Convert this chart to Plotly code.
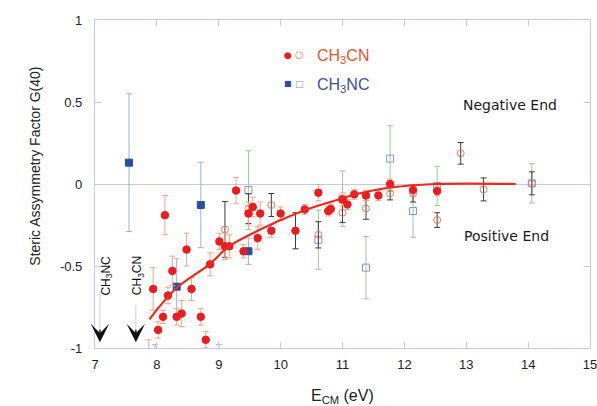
import plotly.graph_objects as go

# ---------------- data ----------------
# CH3CN, filled circles, salmon error bars
cn_fill_x = [7.94, 8.02, 8.10, 8.13, 8.18, 8.25, 8.32, 8.40, 8.48, 8.56, 8.71, 8.79, 8.86,
             9.01, 9.10, 9.17, 9.28, 9.40, 9.48, 9.55, 9.63, 9.67, 9.85, 10.00, 10.39,
             10.61, 10.77, 10.81, 11.00, 11.08, 11.19, 11.38, 11.58, 11.77, 12.14, 12.53]
cn_fill_y = [-0.64, -0.89, -0.81, -0.19, -0.68, -0.53, -0.81, -0.79, -0.40, -0.64, -0.81, -0.95, -0.49,
             -0.35, -0.38, -0.38, -0.04, -0.41, -0.18, -0.14, -0.33, -0.18, -0.285, -0.18, -0.155,
             -0.053, -0.165, -0.152, -0.094, -0.125, -0.063, -0.07, -0.07, 0.0, -0.037, -0.043]
cn_fill_e = [0.13, 0.05, 0.04, 0.12, 0.05, 0.09, 0.05, 0.08, 0.10, 0.07, 0.05, 0.05, 0.07,
             0.05, 0.08, 0.07, 0.08, 0.04, 0.07, 0.06, 0.07, 0.07, 0.04, 0.04, 0.03,
             0.05, 0.03, 0.03, 0.04, 0.03, 0.03, 0.03, 0.03, 0.03, 0.03, 0.03]

# CH3CN, filled circle with dark error bar
cn_fill2_x = [10.24]
cn_fill2_y = [-0.285]
cn_fill2_e = [0.11]

# CH3CN, open circles, dark error bars
cn_open_x = [9.10, 9.48, 9.85, 10.61, 11.00, 11.38, 11.77, 12.14, 12.53, 12.91, 13.28, 14.06]
cn_open_y = [-0.277, -0.15, -0.128, -0.31, -0.175, -0.15, -0.057, -0.06, -0.22, 0.187, -0.033, 0.004]
cn_open_e = [0.17, 0.09, 0.07, 0.08, 0.06, 0.065, 0.04, 0.05, 0.045, 0.066, 0.07, 0.07]

# CH3CN, open circle, salmon error bar (mostly below the axis range)
cn_open2_x = [7.87]
cn_open2_y = [-1.15]
cn_open2_e = [0.2]

# CH3NC, open squares, green error bars
nc_open_x = [9.48, 10.61, 11.00, 11.38, 11.77, 12.14, 12.53, 14.06]
nc_open_y = [-0.037, -0.34, -0.09, -0.51, 0.155, -0.165, -0.012, 0.004]
nc_open_e = [0.24, 0.18, 0.17, 0.19, 0.20, 0.16, 0.12, 0.12]

# CH3NC, open squares, lavender error bars (below the axis range)
nc_open2_x = [7.97, 9.00]
nc_open2_y = [-1.08, -1.12]
nc_open2_e = [0.10, 0.14]

# CH3NC, filled squares, lavender error bars
nc_fill_x = [7.55, 8.32, 8.71, 9.48]
nc_fill_y = [0.13, -0.626, -0.128, -0.41]
nc_fill_e = [0.42, 0.17, 0.26, 0.08]

# fitted curve
fit_x = [7.88, 8.30, 8.85, 9.15, 9.50, 9.80, 10.00, 10.40, 11.00, 11.30, 11.60, 11.80, 12.20, 12.50, 13.00, 13.80]
fit_y = [-0.825, -0.64, -0.49, -0.385, -0.31, -0.255, -0.22, -0.158, -0.087, -0.055, -0.032, -0.02, -0.006, 0.0, 0.002, 0.0]

x_ticks = [7, 8, 9, 10, 11, 12, 13, 14, 15]
y_ticks = [-1, -0.5, 0, 0.5, 1]
y_tick_text = ["-1", "-0.5", "0", "0.5", "1"]

# ---------------- styles ----------------
RED = "#ec1c1e"
SALMON = "#f5a486"
OPEN_OR = "#f07a5a"
DARK = "#3c3c3c"
GREEN = "#9cc89c"
BLUE = "#2451a3"
LAV = "#a7addd"
OPEN_BL = "#8a92d2"
AXC = "#c5c8ec"

fig = go.Figure()


def add(x, y, e, symbol, mcolor, ecolor, size=7.5, lw=1):
    fig.add_trace(go.Scatter(
        x=x, y=y, mode="markers",
        marker=dict(symbol=symbol, color=mcolor, size=size,
                    line=dict(color=mcolor, width=lw)),
        error_y=dict(type="data", array=e, visible=True, color=ecolor,
                     thickness=1, width=3),
        showlegend=False, hoverinfo="x+y"))


add(nc_open_x, nc_open_y, nc_open_e, "square-open", OPEN_BL, GREEN, size=7)
add(nc_open2_x, nc_open2_y, nc_open2_e, "square-open", OPEN_BL, LAV, size=7)
add(cn_open_x, cn_open_y, cn_open_e, "circle-open", OPEN_OR, DARK, size=7)
add(cn_open2_x, cn_open2_y, cn_open2_e, "circle-open", OPEN_OR, SALMON, size=7)
add(nc_fill_x, nc_fill_y, nc_fill_e, "square", BLUE, LAV, size=7)
add(cn_fill_x, cn_fill_y, cn_fill_e, "circle", RED, SALMON)
add(cn_fill2_x, cn_fill2_y, cn_fill2_e, "circle", RED, DARK)

fig.add_trace(go.Scatter(x=fit_x, y=fit_y, mode="lines",
                         line=dict(color="#ee2a1e", width=2.2, shape="spline", smoothing=1.0),
                         showlegend=False, hoverinfo="skip"))

FONT = "Liberation Sans, Arial, sans-serif"

ann = []
# legend (drawn as text)
ann.append(dict(x=10.12, y=0.787, xref="x", yref="y", text="●", showarrow=False,
                font=dict(color=RED, size=9, family="DejaVu Sans")))
ann.append(dict(x=10.30, y=0.787, xref="x", yref="y", text="○", showarrow=False,
                font=dict(color=OPEN_OR, size=10, family="DejaVu Sans")))
ann.append(dict(x=10.55, y=0.775, xref="x", yref="y", text="CH<sub>3</sub>CN", showarrow=False,
                xanchor="left", font=dict(color="#f0502c", size=16, family=FONT)))
ann.append(dict(x=10.12, y=0.612, xref="x", yref="y", text="■", showarrow=False,
                font=dict(color=BLUE, size=8, family="DejaVu Sans")))
ann.append(dict(x=10.30, y=0.612, xref="x", yref="y", text="□", showarrow=False,
                font=dict(color=OPEN_BL, size=9, family="DejaVu Sans")))
ann.append(dict(x=10.55, y=0.60, xref="x", yref="y", text="CH<sub>3</sub>NC", showarrow=False,
                xanchor="left", font=dict(color="#3a4f9f", size=16, family=FONT)))

ann.append(dict(x=13.70, y=0.48, xref="x", yref="y", text="Negative End", showarrow=False,
                font=dict(color="#1a1a1a", size=14, family="DejaVu Sans")))
ann.append(dict(x=13.65, y=-0.317, xref="x", yref="y", text="Positive End", showarrow=False,
                font=dict(color="#1a1a1a", size=14, family="DejaVu Sans")))

# threshold markers
ann.append(dict(x=7.19, y=-0.56, xref="x", yref="y", text="CH<sub>3</sub>NC", showarrow=False,
                textangle=-90, font=dict(color="#111", size=12, family=FONT)))
ann.append(dict(x=7.70, y=-0.56, xref="x", yref="y", text="CH<sub>3</sub>CN", showarrow=False,
                textangle=-90, font=dict(color="#111", size=12, family=FONT)))
for ax_, y0 in [(7.08, -0.66), (7.66, -0.74)]:
    fig.add_shape(type="line", x0=ax_, x1=ax_, y0=y0, y1=-0.90, xref="x", yref="y",
                  line=dict(color="#cfcfcf", width=1))
    ann.append(dict(x=ax_, y=-0.965, ax=ax_, ay=-0.88, xref="x", yref="y", axref="x", ayref="y",
                    text="", showarrow=True, arrowhead=3, arrowsize=2.2, arrowwidth=1.4,
                    arrowcolor="#111"))

# axis titles
ann.append(dict(x=-0.142, y=0.555, xref="paper", yref="paper",
                text="Steric Assymmetry Factor G(40)", textangle=-90, showarrow=False,
                font=dict(color="#222", size=14, family=FONT)))
ann.append(dict(x=0.5, y=-0.148, xref="paper", yref="paper",
                text="E<sub>CM</sub> (eV)", showarrow=False, yanchor="middle",
                font=dict(color="#222", size=16, family=FONT)))

fig.update_layout(
    width=597, height=406,
    margin=dict(l=95, r=7, t=20, b=58, autoexpand=False),
    paper_bgcolor="white", plot_bgcolor="white",
    annotations=ann,
    font=dict(family=FONT, color="#222"),
)
fig.update_xaxes(range=[7, 15], tickvals=x_ticks, ticks="inside", ticklen=6, tickcolor=AXC,
                 showline=True, linecolor=AXC, linewidth=1.2, mirror="ticks", showgrid=False,
                 zeroline=False, tickfont=dict(size=13, color="#222"), ticklabelstandoff=4,
                 ticklabeloverflow="allow", automargin=False)
fig.update_yaxes(range=[-1, 1], tickvals=y_ticks, ticktext=y_tick_text, ticks="inside",
                 ticklen=6, tickcolor=AXC, showline=True, linecolor=AXC, linewidth=1.2,
                 mirror="ticks", showgrid=False, zeroline=True, zerolinecolor=AXC,
                 zerolinewidth=1, tickfont=dict(size=13, color="#222"), ticklabelstandoff=9,
                 automargin=False)

fig.write_html("out.html")
